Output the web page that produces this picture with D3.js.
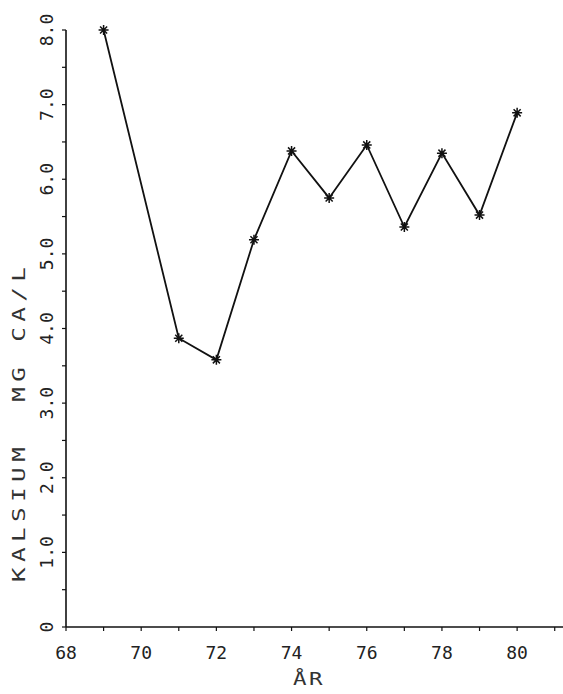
<!DOCTYPE html>
<html>
<head>
<meta charset="utf-8">
<script src="https://cdn.jsdelivr.net/npm/d3@7"></script>
<style>
  body { margin: 0; background: #fff; }
  svg { display: block; }
</style>
</head>
<body>
<svg></svg>
<script>
const width = 563;
const height = 694;

// Data
const years = [69, 71, 72, 73, 74, 75, 76, 77, 78, 79, 80];
const calcium = [8.0, 3.87, 3.58, 5.19, 6.38, 5.75, 6.46, 5.36, 6.35, 5.52, 6.89];
const yTicks = [0, 1, 2, 3, 4, 5, 6, 7, 8];
const xTicks = [68, 70, 72, 74, 76, 78, 80];

const font = "'DejaVu Sans Mono', 'Liberation Mono', monospace";

const svg = d3.select("svg")
    .attr("width", width)
    .attr("height", height);

// Scales
const x = d3.scaleLinear().domain([68, 81.3]).range([66, 566]);
const y = d3.scaleLinear().domain([0, 8]).range([627, 30]);

// Axis lines
svg.append("line")
    .attr("x1", x(68)).attr("x2", x(81.3))
    .attr("y1", y(0)).attr("y2", y(0))
    .attr("stroke", "#111").attr("stroke-width", 1.6);
svg.append("line")
    .attr("x1", x(68)).attr("x2", x(68))
    .attr("y1", y(0)).attr("y2", y(8))
    .attr("stroke", "#111").attr("stroke-width", 1.6);

// Y ticks every 0.5
svg.selectAll(".ytick")
    .data(d3.range(0, 8.01, 0.5))
    .join("line")
    .attr("x1", x(68) - 4).attr("x2", x(68))
    .attr("y1", d => y(d)).attr("y2", d => y(d))
    .attr("stroke", "#111").attr("stroke-width", 1.2);

// X ticks every year
svg.selectAll(".xtick")
    .data(d3.range(68, 82))
    .join("line")
    .attr("x1", d => x(d)).attr("x2", d => x(d))
    .attr("y1", y(0)).attr("y2", y(0) + 4)
    .attr("stroke", "#111").attr("stroke-width", 1.2);

// Y tick labels (rotated)
svg.selectAll(".ylab")
    .data(yTicks)
    .join("text")
    .attr("transform", d => `translate(53,${y(d)}) rotate(-90)`)
    .attr("text-anchor", "middle")
    .attr("font-family", font)
    .attr("font-size", 18)
    .attr("fill", "#222")
    .text(d => d === 0 ? "0" : d.toFixed(1));

// X tick labels
svg.selectAll(".xlab")
    .data(xTicks)
    .join("text")
    .attr("x", d => x(d))
    .attr("y", 659)
    .attr("text-anchor", "middle")
    .attr("font-family", font)
    .attr("font-size", 18)
    .attr("fill", "#222")
    .text(d => d);

// Axis titles (plotter lettering is wider than the screen font, so stretch it a little)
svg.append("text")
    .attr("transform", "translate(293,685) scale(1.25,1)")
    .attr("font-family", font)
    .attr("font-size", 18)
    .attr("letter-spacing", 2)
    .attr("fill", "#333")
    .text("ÅR");

svg.append("text")
    .attr("transform", "translate(25,582) rotate(-90) scale(1.35,1)")
    .attr("text-anchor", "start")
    .attr("font-family", font)
    .attr("font-size", 18)
    .attr("letter-spacing", 4)
    .attr("fill", "#333")
    .attr("xml:space", "preserve")
    .style("white-space", "pre")
    .text("KALSIUM  MG CA/L");

// Data line
const pts = years.map((yr, i) => [yr, calcium[i]]);
svg.append("path")
    .datum(pts)
    .attr("fill", "none")
    .attr("stroke", "#111")
    .attr("stroke-width", 1.8)
    .attr("d", d3.line().x(d => x(d[0])).y(d => y(d[1])));

// Asterisk markers
const r = 5;
const star = d3.range(4).map(k => {
    const a = k * Math.PI / 4;
    const dx = r * Math.cos(a), dy = r * Math.sin(a);
    return `M${-dx},${-dy}L${dx},${dy}`;
}).join("");
svg.selectAll(".mark")
    .data(pts)
    .join("path")
    .attr("transform", d => `translate(${x(d[0])},${y(d[1])})`)
    .attr("d", star)
    .attr("stroke", "#111")
    .attr("stroke-width", 1.5)
    .attr("fill", "none");
</script>
</body>
</html>
